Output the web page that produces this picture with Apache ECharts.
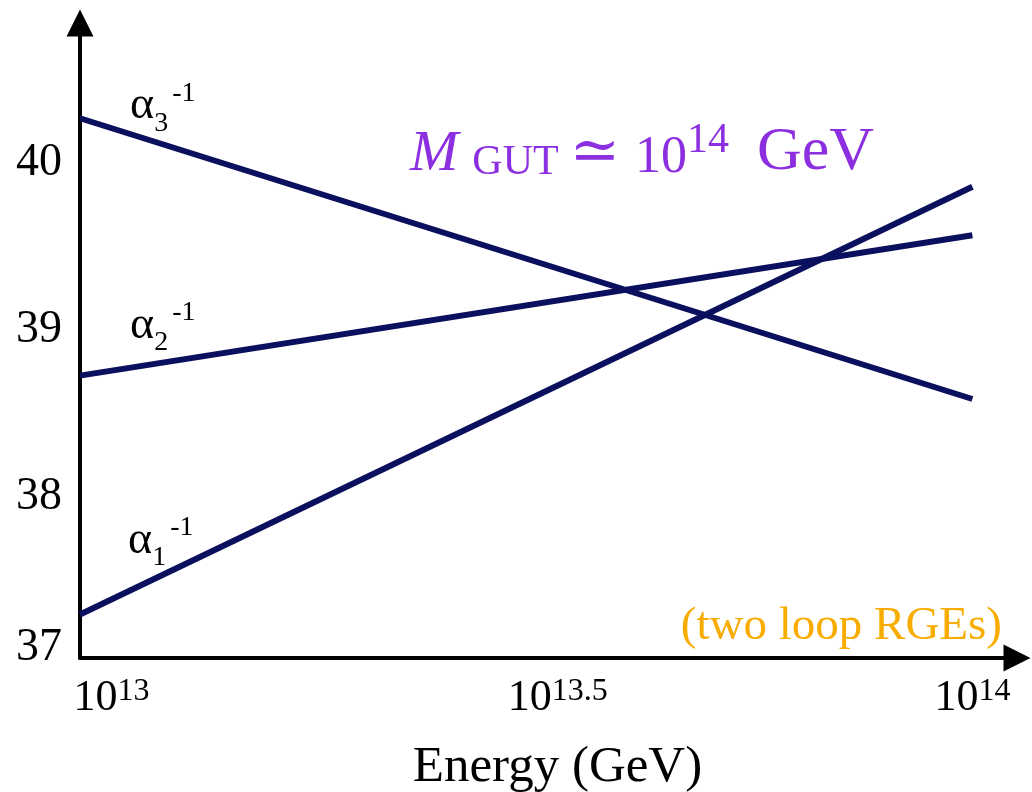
<!DOCTYPE html>
<html>
<head>
<meta charset="utf-8">
<script src="https://cdn.jsdelivr.net/npm/echarts@6/dist/echarts.min.js"></script>
<style>
  html, body { margin: 0; padding: 0; background: #fff; }
  #chart { width: 1032px; height: 792px; }
</style>
</head>
<body>
<div id="chart"></div>
<script>
// Energy on a log10 scale: the x values are the exponents of 10 (GeV).
const logEnergy = [13, 14];
// Inverse gauge couplings at the two ends of the range.
const alpha1Inv = [37.26, 39.82];
const alpha2Inv = [38.69, 39.53];
const alpha3Inv = [40.23, 38.55];
const seriesNames = ['α1', 'α2', 'α3'];
// Tick positions and their labels.
const xTickValues = [13, 13.5, 14];
const xTickLabels = ['13', '13.5', '14'];
const yTickValues = [37, 38, 39, 40];

const SERIF = '"Liberation Serif", "DejaVu Serif", serif';
const LINE_COLOR = '#0b105e';
const PURPLE = '#8b2fe0';

const chart = echarts.init(document.getElementById('chart'));

function lineData(values) {
  return logEnergy.map((x, i) => [x, values[i]]);
}

// Coupling label (α_i^-1) drawn next to the first point of each line.
function couplingSeries(name, sub, values, offset) {
  const data = lineData(values).map((p, i) => i === 0 ? {
    value: p,
    label: {
      show: true,
      position: 'right',
      offset: offset,
      formatter: '{a|α}{sub|' + sub + '}{sup|-1}',
      lineHeight: 62,
      rich: {
        a: { fontFamily: SERIF, fontSize: 46, color: '#000', verticalAlign: 'middle' },
        sub: { fontFamily: SERIF, fontSize: 28, color: '#000', verticalAlign: 'bottom' },
        sup: { fontFamily: SERIF, fontSize: 28, color: '#000', verticalAlign: 'top', padding: [4, 0, 0, 4] }
      }
    }
  } : { value: p });
  return {
    name: name,
    type: 'line',
    data: data,
    symbol: 'circle',
    symbolSize: 0.1,
    showSymbol: true,
    silent: true,
    lineStyle: { color: LINE_COLOR, width: 6 },
    itemStyle: { color: LINE_COLOR },
    emphasis: { disabled: true },
    z: 3
  };
}

const xLabelShift = { '13': 63, '13.5': 63, '14': 0 };

function purple(size, extra) {
  return Object.assign({
    fontFamily: SERIF, fontSize: size, fontWeight: 'normal', color: PURPLE, verticalAlign: 'bottom'
  }, extra || {});
}

const option = {
  animation: false,
  backgroundColor: '#fff',
  title: {
    left: 410,
    top: 120,
    padding: 0,
    text: '{m|M}{g|GUT}{e|≃}{r|10}{s|14}{v|GeV}',
    textStyle: {
      fontWeight: 'normal',
      rich: {
        m: purple(58, { fontStyle: 'italic', padding: [0, 14, 0, 0] }),
        g: purple(42, { padding: [0, 0, 0, 0] }),
        e: purple(60, { padding: [0, 15, 0, 11] }),
        r: purple(52),
        s: purple(42, { padding: [0, 28, 22, 0] }),
        v: purple(62)
      }
    }
  },
  grid: { left: 80, right: 15, top: 23, bottom: 134, containLabel: false, outerBoundsMode: 'none' },
  xAxis: {
    type: 'value',
    min: 13,
    max: 14.05,
    name: 'Energy (GeV)',
    nameLocation: 'middle',
    nameGap: 84,
    nameTextStyle: { fontFamily: SERIF, fontSize: 51, color: '#000', padding: [0, 0, 0, 18] },
    axisLine: {
      show: true,
      symbol: ['none', 'triangle'],
      symbolSize: [27, 27],
      lineStyle: { color: '#000', width: 4 }
    },
    axisTick: { show: false },
    splitLine: { show: false },
    axisLabel: {
      customValues: xTickValues,
      margin: 18,
      formatter: function (v) {
        const idx = xTickValues.indexOf(v);
        const exp = idx >= 0 ? xTickLabels[idx] : '';
        const key = xLabelShift[exp] ? 'bs' : 'b';
        return '{' + key + '|10}{s|' + exp + '}';
      },
      rich: {
        b: { fontFamily: SERIF, fontSize: 44, color: '#000', verticalAlign: 'bottom' },
        bs: { fontFamily: SERIF, fontSize: 44, color: '#000', verticalAlign: 'bottom', padding: [0, 0, 0, 63] },
        s: { fontFamily: SERIF, fontSize: 32, color: '#000', verticalAlign: 'top' }
      }
    }
  },
  yAxis: {
    type: 'value',
    min: 37,
    max: 40.8,
    axisLine: {
      show: true,
      symbol: ['none', 'triangle'],
      symbolSize: [27, 27],
      lineStyle: { color: '#000', width: 4 }
    },
    axisTick: { show: false },
    splitLine: { show: false },
    axisLabel: {
      customValues: yTickValues,
      margin: 18,
      formatter: function (v) {
        return v === 37 ? '{lo|' + v + '}' : '{n|' + v + '}';
      },
      rich: {
        n: { fontFamily: SERIF, fontSize: 46, color: '#000', padding: [12, 0, 0, 0] },
        lo: { fontFamily: SERIF, fontSize: 46, color: '#000', padding: [0, 0, 20, 0] }
      }
    }
  },
  graphic: [{
    type: 'text',
    right: 30,
    top: 603,
    style: {
      text: '(two loop RGEs)',
      font: '47px ' + SERIF,
      fill: '#f9ac00'
    }
  }],
  series: [
    couplingSeries(seriesNames[0], '1', alpha1Inv, [43, -74]),
    couplingSeries(seriesNames[1], '2', alpha2Inv, [45, -50]),
    couplingSeries(seriesNames[2], '3', alpha3Inv, [45, -12])
  ]
};

chart.setOption(option);
</script>
</body>
</html>
